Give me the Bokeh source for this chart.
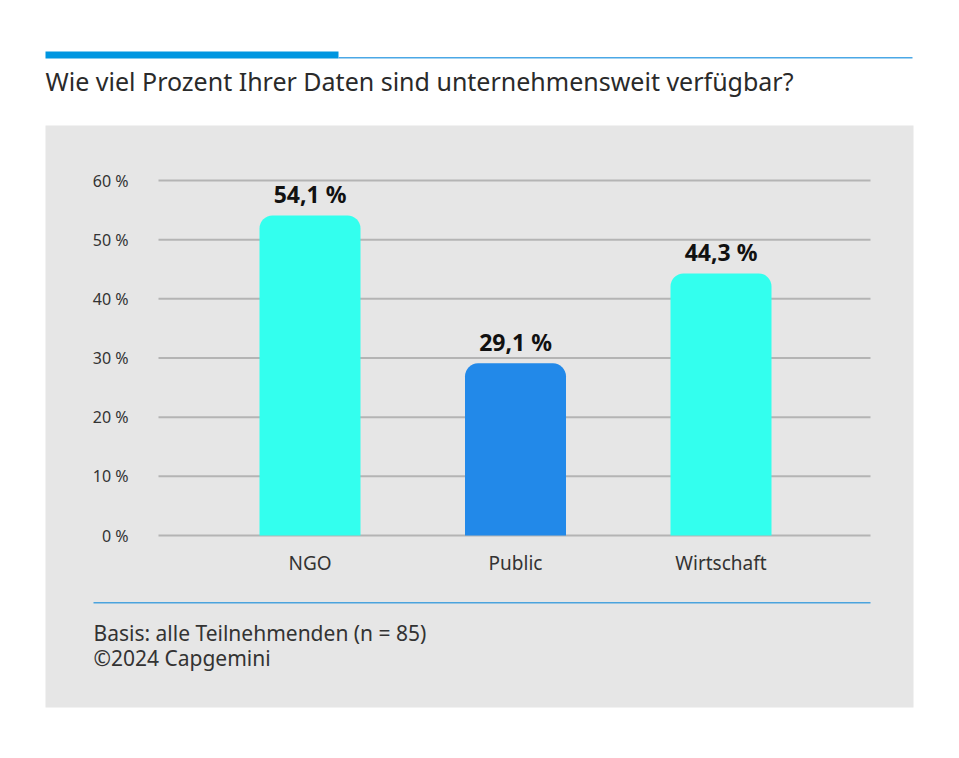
from bokeh.plotting import figure
from bokeh.models import Range1d, LinearAxis, FixedTicker, BoxAnnotation, Label, ColumnDataSource
from bokeh.embed import file_html
from bokeh.resources import INLINE
from bokeh.core.properties import value

# ---------------- data ----------------
categories = ["NGO", "Public", "Wirtschaft"]
values = [54.1, 29.1, 44.3]
value_labels = ["54,1 %", "29,1 %", "44,3 %"]
bar_colors = ["#33FFEE", "#2289E9", "#33FFEE"]
y_ticks = [0, 10, 20, 30, 40, 50, 60]
y_tick_labels = ["0 %", "10 %", "20 %", "30 %", "40 %", "50 %", "60 %"]
title_text = "Wie viel Prozent Ihrer Daten sind unternehmensweit verfügbar?"
footer_lines = ["Basis: alle Teilnehmenden (n = 85)", "©2024 Capgemini"]

# ---------------- layout (pixels in picture) ----------------
W, H = 943, 742
M = 0
XC0, XSTEP = 309.5, 205.5      # x of first category centre, spacing
Y0, YPU = 535.0, 355.0 / 60.0  # y of 0 %, pixels per unit


def X(px):
    return (px - XC0) / XSTEP


def Y(py):
    return (Y0 - py) / YPU


FONT = "Noto Sans"
TXT = "#333333"

p = figure(width=W, height=H, output_backend="svg", toolbar_location=None,
           x_range=Range1d(X(M), X(M + W)), y_range=Range1d(Y(M + H), Y(M)),
           x_axis_type=None, y_axis_type=None, min_border=0,
           outline_line_color=None, background_fill_color="white",
           border_fill_color="white")
p.grid.visible = False

# grey panel
p.add_layout(BoxAnnotation(left=X(45), right=X(913), top=Y(125), bottom=Y(707),
                           fill_color="#E6E6E6", fill_alpha=1, line_color=None,
                           level="underlay"))
# top accent bars
p.add_layout(BoxAnnotation(left=X(45), right=X(338), top=Y(51), bottom=Y(58),
                           fill_color="#0096E0", fill_alpha=1, line_color=None,
                           level="underlay"))
p.add_layout(BoxAnnotation(left=X(338), right=X(912), top=Y(56.6), bottom=Y(58),
                           fill_color="#4BA8E6", fill_alpha=1, line_color=None,
                           level="underlay"))
# footer rule
p.add_layout(BoxAnnotation(left=X(93), right=X(870), top=Y(601.6), bottom=Y(603),
                           fill_color="#4BA3DD", fill_alpha=1, line_color=None,
                           level="underlay"))

# title
p.add_layout(Label(x=X(45), y=Y(80), text=title_text, text_font=FONT,
                   text_font_size="25px", text_color="#2A2A2A",
                   text_baseline="alphabetic", text_align="left"))

# gridlines
p.segment(x0=X(158), x1=X(870), y0=y_ticks, y1=y_ticks,
          line_color="#B4B4B4", line_width=2)

# bars
xs = list(range(len(categories)))
src = ColumnDataSource(dict(x=xs, top=values, color=bar_colors, label=value_labels))
p.vbar(x="x", top="top", bottom=0, width=101 / XSTEP, fill_color="color",
       line_color=None, border_radius=(13, 13, 0, 0), source=src)

# value labels
p.text(x="x", y="top", text="label", source=src, y_offset=-21,
       text_align="center", text_baseline="alphabetic",
       text_font=value(FONT), text_font_style="bold", text_font_size="23px",
       text_color="#111111")

# y axis
yaxis = LinearAxis(fixed_location=X(158), ticker=FixedTicker(ticks=y_ticks),
                   major_label_overrides={t: l for t, l in zip(y_ticks, y_tick_labels)})
yaxis.axis_line_color = None
yaxis.major_tick_line_color = None
yaxis.minor_tick_line_color = None
yaxis.major_tick_out = 0
yaxis.major_tick_in = 0
yaxis.major_label_standoff = 30
yaxis.major_label_text_font = FONT
yaxis.major_label_text_font_size = "16px"
yaxis.major_label_text_color = TXT
p.add_layout(yaxis, "left")

# x axis
xaxis = LinearAxis(fixed_location=0, ticker=FixedTicker(ticks=xs),
                   major_label_overrides={i: c for i, c in zip(xs, categories)})
xaxis.axis_line_color = None
xaxis.major_tick_line_color = None
xaxis.minor_tick_line_color = None
xaxis.major_tick_out = 0
xaxis.major_tick_in = 0
xaxis.major_label_standoff = 14
xaxis.major_label_text_font = FONT
xaxis.major_label_text_font_size = "19px"
xaxis.major_label_text_color = TXT
p.add_layout(xaxis, "below")

# footer
for i, line in enumerate(footer_lines):
    p.add_layout(Label(x=X(93), y=Y(632 + 25 * i), text=line, text_font=FONT,
                       text_font_size="21px", text_color=TXT,
                       text_baseline="alphabetic", text_align="left"))

open("out.html", "w").write(file_html(p, INLINE))
